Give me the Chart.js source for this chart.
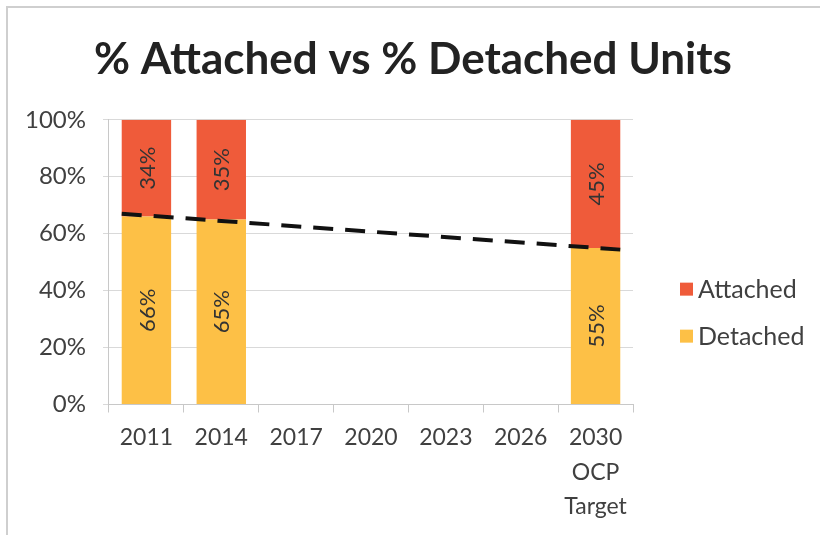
<!DOCTYPE html>
<html>
<head>
<meta charset="utf-8">
<script src="https://cdn.jsdelivr.net/npm/chart.js@4/dist/chart.umd.min.js"></script>
<style>
  html, body { margin: 0; padding: 0; background: #fff; overflow: hidden; }
  .chart-wrap {
    position: absolute;
    left: 6px;
    top: 6px;
    width: 814px;
    height: 529px;
    box-sizing: border-box;
    border-left: 2px solid #cfcfcf;
    border-top: 2px solid #cfcfcf;
  }
</style>
</head>
<body>
<div class="chart-wrap"><canvas id="chart"></canvas></div>
<script>
const labels = ["2011", "2014", "2017", "2020", "2023", "2026", ["2030", "OCP", "Target"]];
const detached = [66, 65, null, null, null, null, 55];
const attached = [34, 35, null, null, null, null, 45];
// dashed trend line, end points (category index, %)
const trend = [{ x: -0.33, y: 67.0 }, { x: 6.33, y: 54.4 }];
const yTicks = [0, 20, 40, 60, 80, 100];
const legendOrder = ["Attached", "Detached"];

const FONT = "Lato, 'Open Sans', sans-serif";
const TEXT = "#404040";

// writes the % value rotated inside each bar segment
const barLabels = {
  id: "barLabels",
  afterDatasetsDraw(chart) {
    const { ctx } = chart;
    ctx.save();
    ctx.font = `22px ${FONT}`;
    ctx.fillStyle = "#333";
    ctx.textAlign = "center";
    ctx.textBaseline = "middle";
    chart.data.datasets.forEach((ds, i) => {
      if (ds.type === "line") return;
      chart.getDatasetMeta(i).data.forEach((bar, j) => {
        const v = ds.data[j];
        if (v == null) return;
        const mid = (bar.y + bar.base) / 2;
        ctx.save();
        ctx.translate(bar.x, mid);
        ctx.rotate(-Math.PI / 2);
        ctx.fillText(v + "%", 0, 1);
        ctx.restore();
      });
    });
    ctx.restore();
  },
};

// legend on the right, a bit below the middle of the plot like the original
const sideLegend = {
  id: "sideLegend",
  afterDraw(chart) {
    const { ctx, chartArea } = chart;
    const x = chartArea.right + 47;
    const midY = (chartArea.top + chartArea.bottom) / 2 + 50;
    ctx.save();
    ctx.font = `25px ${FONT}`;
    ctx.textBaseline = "middle";
    legendOrder.forEach((name, k) => {
      const ds = chart.data.datasets.find((d) => d.label === name);
      const y = midY + (k - 0.5) * 47;
      ctx.fillStyle = ds.backgroundColor;
      ctx.fillRect(x, y - 6, 13, 13);
      ctx.fillStyle = TEXT;
      ctx.fillText(name, x + 18, y + 1);
    });
    ctx.restore();
  },
};

new Chart(document.getElementById("chart"), {
  type: "bar",
  data: {
    labels,
    datasets: [
      {
        label: "Detached",
        data: detached,
        backgroundColor: "#FDC046",
        stack: "units",
        grouped: false,
        order: 1,
      },
      {
        label: "Attached",
        data: attached,
        backgroundColor: "#EF5B3A",
        stack: "units",
        grouped: false,
        order: 1,
      },
      {
        type: "line",
        label: "trend",
        data: trend,
        xAxisID: "xt",
        borderColor: "#111",
        borderWidth: 4,
        borderDash: [20, 12],
        pointRadius: 0,
        order: 0,
      },
    ],
  },
  options: {
    responsive: true,
    maintainAspectRatio: false,
    animation: false,
    layout: {
      padding: { left: 0, right: 2, top: 0, bottom: 3 },
    },
    datasets: {
      bar: { categoryPercentage: 1, barPercentage: 0.66 },
    },
    plugins: {
      title: {
        display: true,
        text: "% Attached vs % Detached Units",
        color: "#222",
        font: { family: FONT, size: 44, weight: "bold" },
        padding: { top: 25, bottom: 34 },
      },
      legend: { display: false },
      tooltip: { enabled: false },
    },
    scales: {
      x: {
        stacked: true,
        grid: {
          drawOnChartArea: false,
          drawTicks: true,
          tickLength: 8,
          color: "#c8c8c8",
        },
        border: { color: "#c8c8c8" },
        ticks: {
          color: TEXT,
          padding: 8,
          maxRotation: 0,
          font: { family: FONT, size: 23, lineHeight: 1.5 },
        },
      },
      xt: {
        type: "linear",
        display: false,
        offset: false,
        min: -0.5,
        max: 6.5,
      },
      y: {
        stacked: true,
        min: 0,
        max: 100,
        afterBuildTicks: (axis) => {
          axis.ticks = yTicks.map((v) => ({ value: v }));
        },
        grid: { color: "#d9d9d9", tickLength: 6 },
        border: { color: "#c8c8c8" },
        ticks: {
          color: TEXT,
          padding: 17,
          font: { family: FONT, size: 24 },
          callback: (v) => v + "%",
        },
      },
      // blank axis on the right, holds the room where the legend is drawn
      side: {
        type: "linear",
        position: "right",
        min: 0,
        max: 1,
        ticks: { display: false },
        grid: { display: false },
        border: { display: false },
        afterFit: (scale) => { scale.width = 185; },
      },
    },
  },
  plugins: [barLabels, sideLegend],
});
</script>
</body>
</html>
